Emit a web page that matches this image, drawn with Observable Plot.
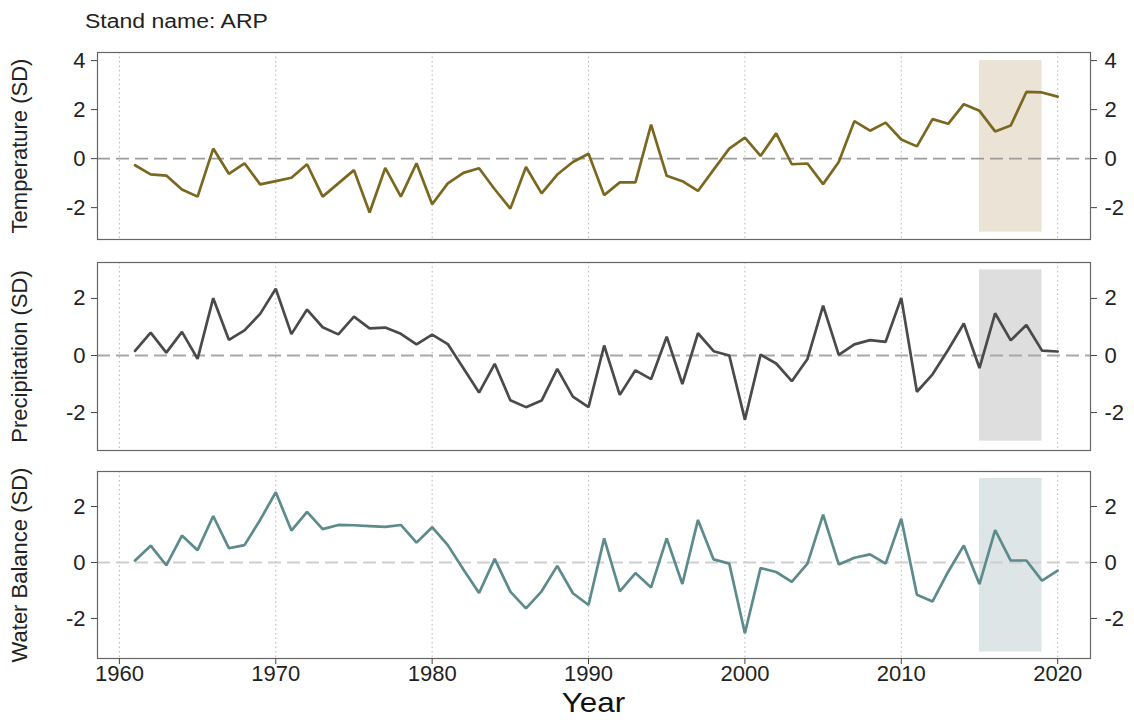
<!DOCTYPE html>
<html>
<head>
<meta charset="utf-8">
<script src="https://cdn.jsdelivr.net/npm/d3@7"></script>
<script src="https://cdn.jsdelivr.net/npm/@observablehq/plot@0.6"></script>
<style>
  html, body { margin: 0; padding: 0; background: #fff; }
  #chart { position: relative; width: 1134px; height: 720px; overflow: hidden; font-family: "Liberation Sans", Arial, sans-serif; }
  #chart > svg { position: absolute; left: 0; }
  .title { position: absolute; left: 85px; top: 11px; font-size: 20px; line-height: 20px; color: #222; transform: scaleX(1.15); transform-origin: left center; white-space: nowrap; }
  .xlabel { position: absolute; left: 97px; width: 993px; top: 689px; font-size: 28px; line-height: 28px; color: #111; text-align: center; transform: scaleX(1.12); transform-origin: center center; }
</style>
</head>
<body>
<div id="chart"></div>
<script>
const years = [1961,1962,1963,1964,1965,1966,1967,1968,1969,1970,
  1971,1972,1973,1974,1975,1976,1977,1978,1979,1980,
  1981,1982,1983,1984,1985,1986,1987,1988,1989,1990,
  1991,1992,1993,1994,1995,1996,1997,1998,1999,2000,
  2001,2002,2003,2004,2005,2006,2007,2008,2009,2010,
  2011,2012,2013,2014,2015,2016,2017,2018,2019,2020];

const temperature = [-0.27,-0.64,-0.69,-1.26,-1.55,0.41,-0.62,-0.19,-1.05,-0.92,
  -0.78,-0.23,-1.55,-1.01,-0.47,-2.2,-0.38,-1.55,-0.19,-1.86,
  -1.01,-0.58,-0.39,-1.25,-2.04,-0.34,-1.42,-0.65,-0.14,0.2,
  -1.49,-0.97,-0.97,1.39,-0.70,-0.92,-1.32,-0.45,0.41,0.86,
  0.11,1.03,-0.23,-0.2,-1.04,-0.14,1.53,1.14,1.47,0.78,
  0.5,1.61,1.42,2.22,1.95,1.11,1.35,2.72,2.7,2.53];

const precipitation = [0.16,0.80,0.10,0.83,-0.12,2.01,0.55,0.88,1.46,2.34,
  0.75,1.61,0.99,0.74,1.36,0.95,0.98,0.76,0.39,0.73,
  0.40,-0.45,-1.30,-0.29,-1.57,-1.81,-1.58,-0.47,-1.44,-1.81,
  0.35,-1.38,-0.52,-0.83,0.66,-1.0,0.78,0.15,0.0,-2.25,
  0.03,-0.28,-0.9,-0.12,1.75,0.02,0.39,0.54,0.48,2.02,
  -1.27,-0.66,0.2,1.12,-0.44,1.48,0.53,1.07,0.17,0.14];

const waterBalance = [0.07,0.60,-0.10,0.96,0.44,1.66,0.51,0.62,1.52,2.51,
  1.14,1.81,1.19,1.34,1.33,1.30,1.27,1.34,0.71,1.26,
  0.62,-0.25,-1.09,0.13,-1.04,-1.64,-1.03,-0.12,-1.10,-1.52,
  0.86,-1.03,-0.38,-0.89,0.86,-0.77,1.52,0.11,-0.04,-2.53,
  -0.2,-0.34,-0.69,-0.04,1.71,-0.07,0.17,0.29,-0.04,1.56,
  -1.15,-1.39,-0.33,0.61,-0.77,1.16,0.07,0.07,-0.65,-0.29];

const decadeTicks = [1960,1970,1980,1990,2000,2010,2020];
const highlightPeriod = [2015, 2019];

const panels = [
  {label: "Temperature (SD)", values: temperature, yTicks: [-2,0,2,4], yDomain: [-3.3, 4.33], band: [-3, 4],
   color: "#7b6820", fill: "#ebe3d6", zero: "#9c9c9c"},
  {label: "Precipitation (SD)", values: precipitation, yTicks: [-2,0,2], yDomain: [-3.33, 3.26], band: [-3, 3],
   color: "#4a4a4a", fill: "#dedede", zero: "#a8a8a8"},
  {label: "Water Balance (SD)", values: waterBalance, yTicks: [-2,0,2], yDomain: [-3.43, 3.25], band: [-3.2, 3],
   color: "#5d8a8b", fill: "#dde5e7", zero: "#cfcfcf"}
];

const layout = [
  {top: 0, height: 245, mt: 52, mb: 6},
  {top: 245, height: 210, mt: 17, mb: 5},
  {top: 455, height: 265, mt: 16, mb: 62}
];

const font = "Liberation Sans, Arial, sans-serif";
const chart = document.getElementById("chart");
const hyphenFormat = d => String(d);

panels.forEach((p, i) => {
  const L = layout[i];
  const data = years.map((year, k) => ({year, value: p.values[k]}));
  const marks = [
    Plot.rect([{x1: highlightPeriod[0], x2: highlightPeriod[1], y1: p.band[0], y2: p.band[1]}],
      {x1: "x1", x2: "x2", y1: "y1", y2: "y2", fill: p.fill}),
    Plot.gridX(decadeTicks, {stroke: "#b5b5b5", strokeOpacity: 1, strokeWidth: 1, strokeDasharray: "1.5,3"}),
    Plot.ruleY([0], {stroke: p.zero, strokeWidth: 1.8, strokeDasharray: "13,6"}),
    Plot.line(data, {x: "year", y: "value", stroke: p.color, strokeWidth: 2.7, strokeLinejoin: "miter"}),
    Plot.frame({stroke: "#666", strokeWidth: 1.2}),
    Plot.axisY(p.yTicks, {anchor: "left", tickSize: 6, tickPadding: 6, fontSize: 22, stroke: "#444",
      tickFormat: hyphenFormat,
      label: p.label, labelAnchor: "center", labelOffset: 86, labelArrow: "none"}),
    Plot.axisY(p.yTicks, {anchor: "right", tickSize: 6, tickPadding: 8, fontSize: 22, stroke: "#444",
      tickFormat: hyphenFormat, label: null})
  ];
  if (i === 2) {
    marks.push(Plot.axisX(decadeTicks, {anchor: "bottom", tickSize: 6, tickPadding: 1, fontSize: 22, stroke: "#444",
      tickFormat: hyphenFormat, label: null}));
  }
  const svg = Plot.plot({
    width: 1134,
    height: L.height,
    marginLeft: 97,
    marginRight: 44,
    marginTop: L.mt,
    marginBottom: L.mb,
    x: {domain: [1958.6, 2022.1], axis: null},
    y: {domain: p.yDomain, axis: null},
    style: {fontFamily: font, fontSize: "22px", color: "#222", background: "transparent"},
    marks
  });
  svg.style.top = L.top + "px";
  chart.appendChild(svg);
});

const title = document.createElement("div");
title.className = "title";
title.textContent = "Stand name: ARP";
chart.appendChild(title);

const xl = document.createElement("div");
xl.className = "xlabel";
xl.textContent = "Year";
chart.appendChild(xl);
</script>
</body>
</html>
